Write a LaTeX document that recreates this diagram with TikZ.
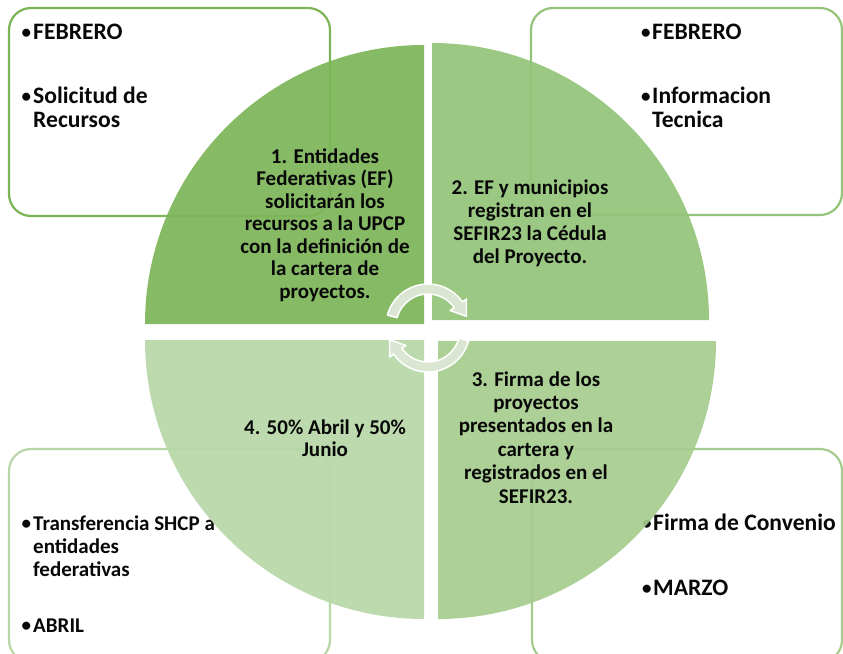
\documentclass[tikz,border=0pt]{standalone}
\usepackage{fontspec}
\setmainfont{Carlito}
\definecolor{qa}{RGB}{124,181,88}
\definecolor{qb}{RGB}{147,196,121}
\definecolor{qc}{RGB}{165,204,142}
\definecolor{qd}{RGB}{183,215,167}
\definecolor{arrowfill}{RGB}{218,229,210}
\definecolor{ink}{RGB}{8,8,8}
\tikzset{
 infobox/.style={draw, fill=white, line width=2.2pt, rounded corners=22pt, inner sep=0pt},
 btxt/.style={inner sep=0pt, text=ink, font=\fontsize{23.6}{25}\selectfont\bfseries},
 btxts/.style={inner sep=0pt, text=ink, font=\fontsize{21}{23}\selectfont\bfseries},
 bdot/.style={inner sep=0pt, text=ink, font=\fontsize{19}{20}\selectfont\bfseries},
 qtxt/.style={inner sep=0pt, text=ink, font=\fontsize{21}{23}\selectfont\bfseries},
 quad/.style={fill opacity=0.92},
 cyc/.style={fill=arrowfill, draw=white, line width=1.5pt, line join=round},
}
\begin{document}
\begin{tikzpicture}[x=1pt,y=-1pt]
\useasboundingbox (0,0) rectangle (843,653);
\fill[white] (0,0) rectangle (843,653);

% info boxes
\node[infobox, draw=qa, minimum width=321pt, minimum height=208pt] (boxA) at (169.5,112) {};
\node[infobox, draw=qb, minimum width=311pt, minimum height=207pt] (boxB) at (686.5,111.5) {};
\node[infobox, draw=qd, minimum width=321pt, minimum height=213pt] (boxD) at (169.5,555.5) {};
\node[infobox, draw=qc, minimum width=310pt, minimum height=213pt] (boxC) at (687,555.5) {};

% box texts
\node[bdot, anchor=base west] (ba1) at (21.5,38) {•};
\node[btxt, anchor=base west] (ta1) at (33,39) {FEBRERO};
\node[bdot, anchor=base west] (ba2) at (21.5,102) {•};
\node[btxt, anchor=base west] (ta2) at (33,103) {Solicitud de};
\node[btxt, anchor=base west] (ta3) at (33,127) {Recursos};

\node[bdot, anchor=base west] (bb1) at (641,38) {•};
\node[btxt, anchor=base west] (tb1) at (652,39) {FEBRERO};
\node[bdot, anchor=base west] (bb2) at (641,102) {•};
\node[btxt, anchor=base west] (tb2) at (652,103) {Informacion};
\node[btxt, anchor=base west] (tb3) at (652,127) {Tecnica};

\node[bdot, anchor=base west] (bd1) at (21.5,529) {•};
\node[btxts, anchor=base west] (td1) at (33,530) {Transferencia SHCP a};
\node[btxts, anchor=base west] (td2) at (33,553) {entidades};
\node[btxts, anchor=base west] (td3) at (33,576) {federativas};
\node[bdot, anchor=base west] (bd2) at (21.5,631) {•};
\node[btxts, anchor=base west] (td4) at (33,632) {ABRIL};

\node[bdot, anchor=base west] (bc1) at (642,529) {•};
\node[btxt, anchor=base west] (tc1) at (653,530) {Firma de Convenio};
\node[bdot, anchor=base west] (bc2) at (642,594) {•};
\node[btxt, anchor=base west] (tc2) at (653,595) {MARZO};

% quadrants
\fill[qa, quad] (424,324) -- (145,324) arc[start angle=180, end angle=270, radius=279] -- cycle;
\fill[qb, quad] (432,320) -- (432,43) arc[start angle=270, end angle=360, radius=277] -- cycle;
\fill[qc, quad] (438,341) -- (716,341) arc[start angle=0, end angle=90, radius=278] -- cycle;
\fill[qd, quad] (424,340) -- (424,619) arc[start angle=90, end angle=180, radius=279] -- cycle;

% quadrant texts
\foreach \t [count=\i] in {{1. Entidades},{Federativas (EF)},{solicitarán los},{recursos a la UPCP},{con la definición de},{la cartera de},{proyectos.}}
  \node[qtxt, anchor=base] (qa\i) at (325,{163+22.5*(\i-1)}) {\t};
\foreach \t [count=\i] in {{2. EF y municipios},{registran en el},{SEFIR23 la Cédula},{del Proyecto.}}
  \node[qtxt, anchor=base] (qb\i) at (530,{194+23*(\i-1)}) {\t};
\foreach \t [count=\i] in {{3. Firma de los},{proyectos},{presentados en la},{cartera y},{registrados en el},{SEFIR23.}}
  \node[qtxt, anchor=base] (qc\i) at (536,{386+23.4*(\i-1)}) {\t};
\foreach \t [count=\i] in {{4. 50\% Abril y 50\%},{Junio}}
  \node[qtxt, anchor=base] (qd\i) at (325,{434+22.5*(\i-1)}) {\t};

% cycle arrows
\begin{scope}[shift={(428,326)}]
\filldraw[cyc] (195:42) arc[start angle=195,end angle=325,radius=42] -- (325:47) -- (38.34,-9.75) -- (325:27) -- (325:32) arc[start angle=325,end angle=195,radius=32] -- cycle;
\end{scope}
\begin{scope}[shift={(428,330)}]
\filldraw[cyc] (15:42) arc[start angle=15,end angle=145,radius=42] -- (145:47) -- (-38.34,9.75) -- (145:27) -- (145:32) arc[start angle=145,end angle=15,radius=32] -- cycle;
\end{scope}
\end{tikzpicture}
\end{document}
